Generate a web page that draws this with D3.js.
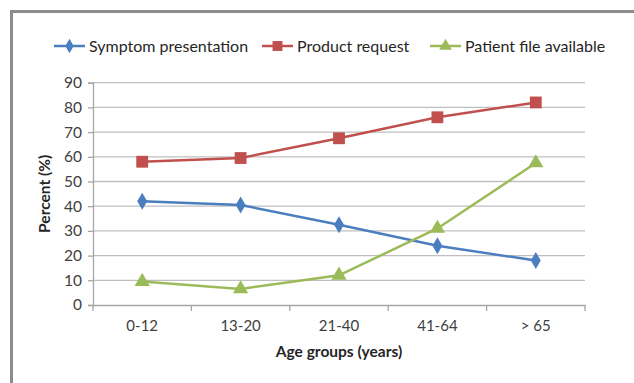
<!DOCTYPE html>
<html>
<head>
<meta charset="utf-8">
<script src="https://cdn.jsdelivr.net/npm/d3@7"></script>
<style>
  body { margin: 0; background: #fff; }
  svg { display: block; font-family: Lato, "Open Sans", sans-serif; }
</style>
</head>
<body>
<script>
// Chart size (matches the browser window)
var w = 634;
var h = 383;

// Data
var categories = ["0-12", "13-20", "21-40", "41-64", "> 65"];
var symptom = [42, 40.5, 32.5, 24, 18];
var product = [58, 59.5, 67.5, 76, 82];
var patientFile = [9.5, 6.5, 12, 31, 57.5];
var yTicks = [0, 10, 20, 30, 40, 50, 60, 70, 80, 90];
var seriesNames = ["Symptom presentation", "Product request", "Patient file available"];

var series = [
    { name: seriesNames[0], values: symptom, color: "#4a7ebf", shape: d3.symbolDiamond, size: 85 },
    { name: seriesNames[1], values: product, color: "#c0504d", shape: d3.symbolSquare, size: 140 },
    { name: seriesNames[2], values: patientFile, color: "#9bbb59", shape: d3.symbolTriangle, size: 100 }
];

// Plot area edges
var plotLeft = 93, plotRight = 585, plotTop = 82.7, plotBottom = 305;

var xScale = d3.scaleBand()
    .domain(categories)
    .range([plotLeft, plotRight]);

var yScale = d3.scaleLinear()
    .domain([0, 90])
    .range([plotBottom, plotTop]);

var svg = d3.select("body")
    .append("svg")
    .attr("width", w)
    .attr("height", h);

// Outer frame (only top and left edges are visible)
svg.append("path")
    .attr("d", "M11.5," + h + "V11.5H" + w)
    .attr("fill", "none")
    .attr("stroke", "#8c8c8c")
    .attr("stroke-width", 3);

// Horizontal gridlines
svg.append("g")
    .selectAll("line")
    .data(yTicks.slice(1))
    .enter()
    .append("line")
    .attr("x1", plotLeft)
    .attr("x2", plotRight)
    .attr("y1", function(d) { return yScale(d); })
    .attr("y2", function(d) { return yScale(d); })
    .attr("stroke", "#bfbfbf")
    .attr("stroke-width", 1.3);

// Y axis
var yAxis = d3.axisLeft(yScale)
    .tickValues(yTicks)
    .tickSize(5)
    .tickPadding(6);

var gy = svg.append("g")
    .attr("transform", "translate(" + plotLeft + ",0)")
    .call(yAxis);
gy.selectAll("path, line").attr("stroke", "#a6a6a6").attr("stroke-width", 1.3);
gy.selectAll("text").attr("font-size", 15.5).attr("fill", "#404040").attr("font-family", "Lato, sans-serif");

// X axis with ticks between categories
var xAxis = d3.axisBottom(xScale).tickSize(0).tickPadding(15);
var gx = svg.append("g")
    .attr("transform", "translate(0," + plotBottom + ")")
    .call(xAxis);
gx.select("path").attr("stroke", "#a6a6a6").attr("stroke-width", 1.3);
gx.selectAll("text").attr("font-size", 15).attr("fill", "#404040").attr("font-family", "Lato, sans-serif");

gx.selectAll(".sep")
    .data(categories.concat(["end"]))
    .enter()
    .append("line")
    .attr("x1", function(d, i) { return plotLeft + i * xScale.bandwidth(); })
    .attr("x2", function(d, i) { return plotLeft + i * xScale.bandwidth(); })
    .attr("y1", 0)
    .attr("y2", 6)
    .attr("stroke", "#a6a6a6")
    .attr("stroke-width", 1.3);

// Lines and markers
var line = d3.line()
    .x(function(d, i) { return xScale(categories[i]) + xScale.bandwidth() / 2; })
    .y(function(d) { return yScale(d); });

series.forEach(function(s) {
    svg.append("path")
        .datum(s.values)
        .attr("d", line)
        .attr("fill", "none")
        .attr("stroke", s.color)
        .attr("stroke-width", 2.5);

    svg.selectAll(null)
        .data(s.values)
        .enter()
        .append("path")
        .attr("d", d3.symbol().type(s.shape).size(s.size))
        .attr("transform", function(d, i) {
            return "translate(" + (xScale(categories[i]) + xScale.bandwidth() / 2) + "," + yScale(d) + ")";
        })
        .attr("fill", s.color);
});

// Legend
var legendX = [54, 262, 430];
var legend = svg.selectAll(".legend")
    .data(series)
    .enter()
    .append("g")
    .attr("transform", function(d, i) { return "translate(" + legendX[i] + ",46)"; });

legend.append("line")
    .attr("x1", 0)
    .attr("x2", 31)
    .attr("stroke", function(d) { return d.color; })
    .attr("stroke-width", 2.5);

legend.append("path")
    .attr("d", function(d) { return d3.symbol().type(d.shape).size(d.size * 0.7)(); })
    .attr("transform", "translate(15.5,0)")
    .attr("fill", function(d) { return d.color; });

legend.append("text")
    .attr("x", 35)
    .attr("dy", "0.35em")
    .attr("font-size", 16)
    .attr("fill", "#262626")
    .text(function(d) { return d.name; });

// Axis titles
svg.append("text")
    .attr("text-anchor", "middle")
    .attr("x", (plotLeft + plotRight) / 2)
    .attr("y", 357)
    .attr("font-size", 15.5)
    .attr("font-weight", "bold")
    .attr("fill", "#262626")
    .text("Age groups (years)");

svg.append("text")
    .attr("text-anchor", "middle")
    .attr("transform", "translate(50," + ((plotTop + plotBottom) / 2) + ") rotate(-90)")
    .attr("font-size", 15.5)
    .attr("font-weight", "bold")
    .attr("fill", "#262626")
    .text("Percent (%)");
</script>
</body>
</html>
